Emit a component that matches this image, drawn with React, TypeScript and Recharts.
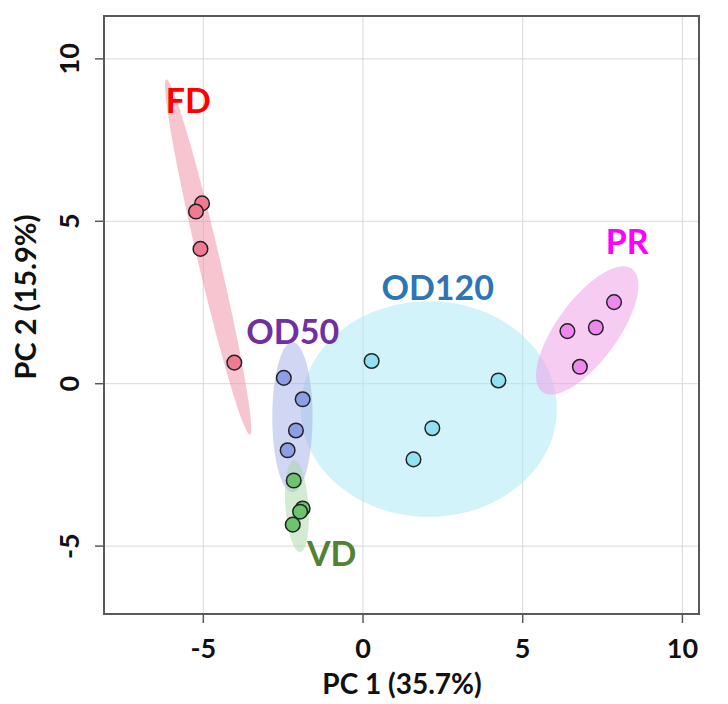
import { ScatterChart, Scatter, XAxis, YAxis, CartesianGrid, ReferenceArea } from 'recharts'

type Pt = { x: number; y: number }

const xTicks = [-5, 0, 5, 10]
const yTicks = [-5, 0, 5, 10]
const xDomain: [number, number] = [-8.11, 10.52]
const yDomain: [number, number] = [-7.09, 11.32]

const fdPoints: Pt[] = [
  { x: -5.04, y: 5.55 },
  { x: -5.23, y: 5.3 },
  { x: -5.09, y: 4.15 },
  { x: -4.03, y: 0.65 },
]
const od50Points: Pt[] = [
  { x: -2.48, y: 0.18 },
  { x: -1.89, y: -0.48 },
  { x: -2.1, y: -1.44 },
  { x: -2.36, y: -2.05 },
]
const vdPoints: Pt[] = [
  { x: -2.17, y: -2.98 },
  { x: -1.89, y: -3.84 },
  { x: -1.97, y: -3.94 },
  { x: -2.2, y: -4.34 },
]
const od120Points: Pt[] = [
  { x: 0.27, y: 0.7 },
  { x: 4.24, y: 0.1 },
  { x: 2.17, y: -1.37 },
  { x: 1.58, y: -2.33 },
]
const prPoints: Pt[] = [
  { x: 7.86, y: 2.51 },
  { x: 7.29, y: 1.73 },
  { x: 6.4, y: 1.62 },
  { x: 6.79, y: 0.52 },
]

// ellipse: centre, half major axis vector, half minor length (data units)
const fdEllipse = { cx: -4.85, cy: 3.9, ax: -1.31, ay: 5.47, b: 0.34 }
const od50Ellipse = { cx: -2.21, cy: -1.03, ax: 0, ay: 2.31, b: 0.63 }
const vdEllipse = { cx: -2.07, cy: -3.77, ax: -0.1, ay: 1.41, b: 0.36 }
const od120Ellipse = { cx: 2.06, cy: -0.78, ax: 4.01, ay: 0, b: 3.32 }
const prEllipse = { cx: 7.02, cy: 1.64, ax: 1.41, ay: 1.89, b: 0.95 }

const groupLabels = [
  { name: 'FD', x: -5.47, y: 8.71 },
  { name: 'OD50', x: -2.2, y: 1.59 },
  { name: 'OD120', x: 2.34, y: 2.96 },
  { name: 'PR', x: 8.27, y: 4.35 },
  { name: 'VD', x: -0.98, y: -5.24 },
]

const labelColors: Record<string, string> = {
  FD: '#ff0000',
  OD50: '#7030a0',
  OD120: '#2e75b6',
  PR: '#ff00ff',
  VD: '#548235',
}

const font = 'Lato, "Open Sans", sans-serif'

function outline(e: { cx: number; cy: number; ax: number; ay: number; b: number }, n = 96): Pt[] {
  const len = Math.hypot(e.ax, e.ay)
  const px = (-e.ay / len) * e.b
  const py = (e.ax / len) * e.b
  const pts: Pt[] = []
  for (let i = 0; i <= n; i++) {
    const t = (2 * Math.PI * i) / n
    pts.push({
      x: e.cx + Math.cos(t) * e.ax + Math.sin(t) * px,
      y: e.cy + Math.cos(t) * e.ay + Math.sin(t) * py,
    })
  }
  return pts
}

const noDot = () => <g />

const dot = (fill: string) => (p: any) =>
  <circle cx={p.cx} cy={p.cy} r={7.3} fill={fill} stroke="#222" strokeWidth={1.5} />

const XTick = (p: any) => (
  <text x={p.x} y={p.y} dy={33} textAnchor="middle" fontFamily={font} fontWeight={700} fontSize={27} fill="#111">
    {p.payload.value}
  </text>
)

const YTick = (p: any) => (
  <text
    transform={`translate(${p.x - 14},${p.y}) rotate(-90)`}
    textAnchor="middle"
    fontFamily={font}
    fontWeight={700}
    fontSize={27}
    fill="#111"
  >
    {p.payload.value}
  </text>
)

export default function App() {
  const ellipses = [
    { e: fdEllipse, fill: '#f08ca2', op: 0.5 },
    { e: od120Ellipse, fill: '#a6e8f6', op: 0.5 },
    { e: od50Ellipse, fill: '#a4aee6', op: 0.5 },
    { e: vdEllipse, fill: '#a8d6a8', op: 0.5 },
    { e: prEllipse, fill: '#f09ae8', op: 0.5 },
  ]
  return (
    <div style={{ position: 'absolute', left: 0, top: 0, width: 728, height: 704, background: '#fff' }}>
      <ScatterChart width={728} height={704} margin={{ top: 16, right: 29, bottom: 30, left: 44 }}>
        <CartesianGrid stroke="#d9d9d9" strokeWidth={1} />
        <XAxis
          type="number"
          dataKey="x"
          domain={xDomain}
          ticks={xTicks}
          allowDataOverflow
          height={60}
          tickSize={9}
          tickLine={{ stroke: '#595959', strokeWidth: 1.5 }}
          axisLine={false}
          tick={<XTick />}
          label={{
            content: () => (
              <text x={402} y={694} textAnchor="middle" fontFamily={font} fontWeight={700} fontSize={28} fill="#111">
                PC 1 (35.7%)
              </text>
            ),
          }}
        />
        <YAxis
          type="number"
          dataKey="y"
          domain={yDomain}
          ticks={yTicks}
          allowDataOverflow
          width={60}
          tickSize={9}
          tickLine={{ stroke: '#595959', strokeWidth: 1.5 }}
          axisLine={false}
          tick={<YTick />}
          label={{
            content: () => (
              <text
                transform="translate(36,297) rotate(-90)"
                textAnchor="middle"
                fontFamily={font}
                fontWeight={700}
                fontSize={29}
                fill="#111"
              >
                PC 2 (15.9%)
              </text>
            ),
          }}
        />
        {ellipses.map((el, i) => (
          <Scatter
            key={'e' + i}
            data={outline(el.e)}
            line={{ fill: el.fill, fillOpacity: el.op, stroke: 'none' }}
            lineType="joint"
            shape={noDot}
            isAnimationActive={false}
          />
        ))}
        <Scatter data={fdPoints} shape={dot('#f07a90')} isAnimationActive={false} />
        <Scatter data={od50Points} shape={dot('#8c9ee8')} isAnimationActive={false} />
        <Scatter data={vdPoints} shape={dot('#6cc46c')} isAnimationActive={false} />
        <Scatter data={od120Points} shape={dot('#90e2f2')} isAnimationActive={false} />
        <Scatter data={prPoints} shape={dot('#ee88ee')} isAnimationActive={false} />
        <Scatter
          data={groupLabels}
          isAnimationActive={false}
          shape={(p: any) => (
            <text
              x={p.cx}
              y={p.cy}
              dy={12}
              textAnchor="middle"
              fontFamily={font}
              fontWeight={700}
              fontSize={34}
              fill={labelColors[p.payload.name]}
            >
              {p.payload.name}
            </text>
          )}
        />
        <ReferenceArea
          x1={xDomain[0]}
          x2={xDomain[1]}
          y1={yDomain[0]}
          y2={yDomain[1]}
          fill="none"
          stroke="#595959"
          strokeWidth={2}
          ifOverflow="visible"
        />
      </ScatterChart>
    </div>
  )
}
